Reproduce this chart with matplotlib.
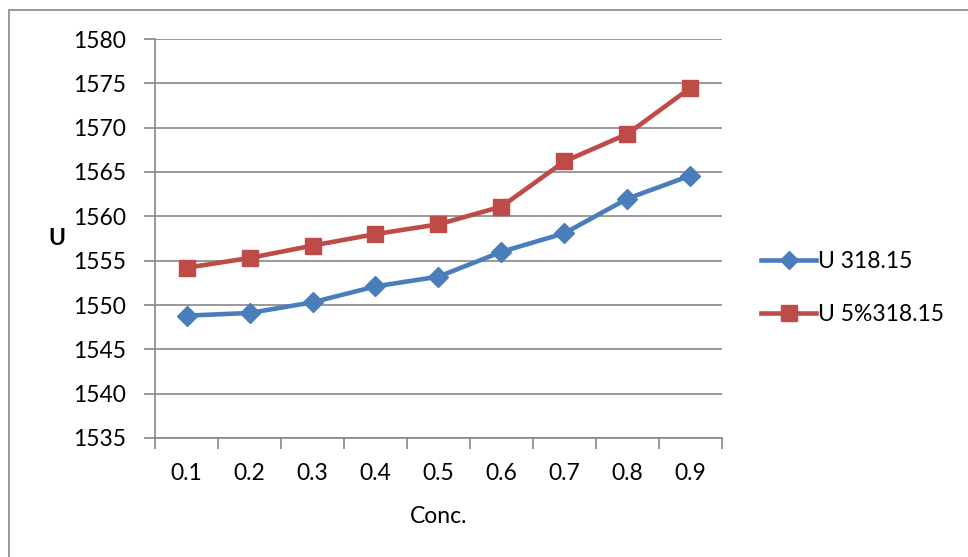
import matplotlib
matplotlib.use("Agg")
import matplotlib.pyplot as plt
from matplotlib.patches import Rectangle
import numpy as np

# Data
conc = ["0.1", "0.2", "0.3", "0.4", "0.5", "0.6", "0.7", "0.8", "0.9"]
u_318 = [1548.8, 1549.1, 1550.3, 1552.1, 1553.2, 1556.0, 1558.1, 1562.0, 1564.6]
u_5pct_318 = [1554.2, 1555.3, 1556.7, 1558.0, 1559.1, 1561.1, 1566.2, 1569.3, 1574.5]
y_ticks = [1535, 1540, 1545, 1550, 1555, 1560, 1565, 1570, 1575, 1580]
series_names = ["U 318.15", "U 5%318.15"]

W, H = 968, 557
DPI = 100
plt.rcParams['font.family'] = ['Lato', 'DejaVu Sans']
FS = 16.5
GRID = "#878787"
BLUE = "#4A7EBB"
RED = "#BE4B48"

fig = plt.figure(figsize=(W / DPI, H / DPI), dpi=DPI)
fig.patch.set_facecolor("white")

# chart frame
fig.patches.append(Rectangle((9 / W, -0.1), 2.0, (H - 10) / H + 0.1,
                             transform=fig.transFigure, fill=False,
                             edgecolor=GRID, linewidth=1.2))

left, right, top, bottom = 155, 722, 39, 438
ax = fig.add_axes([left / W, (H - bottom) / H, (right - left) / W, (bottom - top) / H])

x = np.arange(len(conc))
ax.plot(x, u_318, color=BLUE, lw=3.3, marker="D", ms=10.5,
        mfc=BLUE, mec=BLUE, label=series_names[0], zorder=3)
ax.plot(x, u_5pct_318, color=RED, lw=3.3, marker="s", ms=12,
        mfc=RED, mec=RED, label=series_names[1], zorder=3)

ax.set_xlim(-0.5, len(conc) - 0.5)
ax.set_ylim(y_ticks[0], y_ticks[-1])
ax.set_yticks(y_ticks)
ax.yaxis.grid(True, color=GRID, lw=1.2)
ax.set_axisbelow(True)

# category boundaries carry the tick marks, labels sit at the centres
ax.set_xticks(np.arange(-0.5, len(conc), 1.0))
ax.set_xticklabels([])
ax.set_xticks(x, minor=True)
ax.set_xticklabels(conc, minor=True, fontsize=FS)
ax.tick_params(axis="x", which="major", length=8, width=1.2, color=GRID, direction="out")
ax.tick_params(axis="x", which="minor", length=0, pad=18)
ax.tick_params(axis="y", length=8, width=1.2, color=GRID, direction="out",
               labelsize=FS, pad=13)

for s in ["top", "right"]:
    ax.spines[s].set_visible(False)
for s in ["left", "bottom"]:
    ax.spines[s].set_color(GRID)
    ax.spines[s].set_linewidth(1.2)

ax.set_xlabel("Conc.", fontsize=FS, labelpad=16)
fig.text(57 / W, 1 - 238 / H, "U", fontsize=FS, fontweight="bold",
         ha="center", va="center")

leg = ax.legend(loc="center left", bbox_to_anchor=(761 / W, 1 - 288 / H),
                bbox_transform=fig.transFigure, frameon=False, fontsize=FS,
                handlelength=2.4, handletextpad=0.1, labelspacing=1.4,
                borderpad=0, borderaxespad=0)
leg.legend_handles[0].set_markersize(9)
leg.legend_handles[1].set_markersize(11)

fig.savefig("out.png", dpi=DPI, facecolor="white")
